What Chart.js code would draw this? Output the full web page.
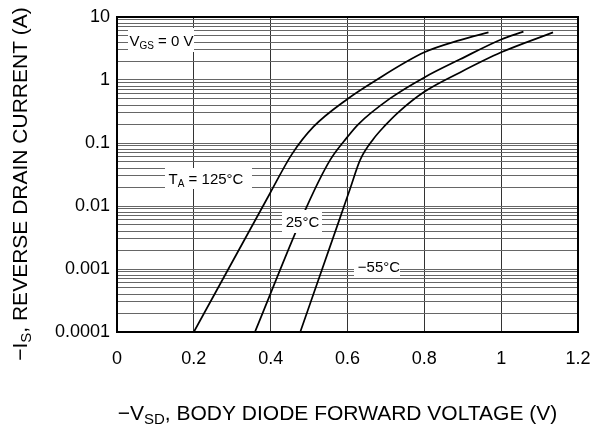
<!DOCTYPE html>
<html>
<head>
<meta charset="utf-8">
<script src="https://cdn.jsdelivr.net/npm/chart.js@4/dist/chart.umd.min.js"></script>
<style>
html,body{margin:0;padding:0;background:#fff;}
#wrap{width:601px;height:425px;position:relative;}
</style>
</head>
<body>
<div id="wrap"><canvas id="c" width="601" height="425"></canvas></div>
<script>
// ---- data ----
const v125 = [0.2, 0.398, 0.455, 0.511, 0.6, 0.668, 0.8, 0.893, 0.967];
const i125 = [0.0001, 0.0158, 0.066, 0.18, 0.5, 0.94, 2.75, 4.3, 5.7];
const v25 = [0.359, 0.494, 0.555, 0.6, 0.628, 0.711, 0.8, 0.893, 1.0, 1.058];
const i25 = [0.0001, 0.0098, 0.054, 0.125, 0.198, 0.51, 1.1, 2.13, 4.4, 5.85];
const vm55 = [0.477, 0.581, 0.607, 0.633, 0.667, 0.698, 0.733, 0.8, 0.893, 1.0, 1.135];
const im55 = [0.0001, 0.0066, 0.019, 0.054, 0.115, 0.19, 0.31, 0.65, 1.32, 2.75, 5.7];

const xTickValues = [0, 0.2, 0.4, 0.6, 0.8, 1.0, 1.2];
const xTickLabels = ['0', '0.2', '0.4', '0.6', '0.8', '1', '1.2'];
const yDecades = [0.0001, 0.001, 0.01, 0.1, 1, 10];
const yTickLabels = ['0.0001', '0.001', '0.01', '0.1', '1', '10'];

const FONT = '"Liberation Sans", Arial, Helvetica, sans-serif';

function pts(xs, ys) { return xs.map((x, k) => ({x: x, y: ys[k]})); }

function yTicks() {
  const t = [];
  for (let d = 0; d < yDecades.length; d++) {
    t.push({value: yDecades[d], major: true, lab: yTickLabels[d]});
    if (d < yDecades.length - 1) {
      for (let m = 2; m <= 9; m++) t.push({value: yDecades[d] * m, major: false, lab: ''});
    }
  }
  return t;
}

function richWidth(ctx, parts) {
  let w = 0;
  parts.forEach(p => { ctx.font = p[1] + 'px ' + FONT; w += ctx.measureText(p[0]).width; });
  return w;
}

function drawRich(ctx, parts, x, y, align) {
  const w = richWidth(ctx, parts);
  let cx = align === 'center' ? x - w / 2 : (align === 'right' ? x - w : x);
  ctx.textAlign = 'left';
  ctx.textBaseline = 'alphabetic';
  parts.forEach(p => {
    ctx.font = p[1] + 'px ' + FONT;
    ctx.fillText(p[0], cx, y + p[2]);
    cx += ctx.measureText(p[0]).width;
  });
}

function labelBox(ctx, parts, box, cx, baseY) {
  ctx.fillStyle = '#fff';
  ctx.fillRect(box[0], box[1], box[2] - box[0], box[3] - box[1]);
  ctx.fillStyle = '#000';
  drawRich(ctx, parts, cx, baseY, 'center');
}

const decor = {
  id: 'decor',
  afterDatasetsDraw(chart) {
    const ctx = chart.ctx;
    const a = chart.chartArea;
    ctx.save();
    // label boxes
    labelBox(ctx, [['V', 15, 0], ['GS', 10, 3], [' = 0 V', 15, 0]], [128, 28, 194, 52], 161.5, 46);
    labelBox(ctx, [['T', 15, 0], ['A', 10, 3], [' = 125°C', 15, 0]], [165, 168, 252, 189], 206, 184);
    labelBox(ctx, [['25°C', 15, 0]], [282, 210, 322, 233], 302.5, 227);
    labelBox(ctx, [['\u221255°C', 15, 0]], [354, 260, 400, 278], 379, 272);
    // frame
    ctx.strokeStyle = '#000';
    ctx.lineWidth = 2;
    ctx.strokeRect(a.left, a.top, a.right - a.left, a.bottom - a.top);
    // axis titles
    ctx.fillStyle = '#000';
    drawRich(ctx, [['\u2212V', 21, 0], ['SD', 15, 4], [', BODY DIODE FORWARD VOLTAGE (V)', 21, 0]], 337.5, 420, 'center');
    ctx.translate(27, 184);
    ctx.rotate(-Math.PI / 2);
    drawRich(ctx, [['\u2212I', 21, 0], ['S', 15, 4], [', REVERSE DRAIN CURRENT (A)', 21, 0]], 0, 0, 'center');
    ctx.restore();
  }
};

const lineStyle = {borderColor: '#000', borderWidth: 1.7, pointRadius: 0, fill: false, cubicInterpolationMode: 'monotone'};

function noPad(s) { s.paddingLeft = 0; s.paddingRight = 0; s.paddingTop = 0; s.paddingBottom = 0; }

new Chart(document.getElementById('c'), {
  type: 'scatter',
  data: {
    datasets: [
      Object.assign({label: '125°C', data: pts(v125, i125), showLine: true}, lineStyle),
      Object.assign({label: '25°C', data: pts(v25, i25), showLine: true}, lineStyle),
      Object.assign({label: '-55°C', data: pts(vm55, im55), showLine: true}, lineStyle)
    ]
  },
  options: {
    responsive: false,
    animation: false,
    devicePixelRatio: 1,
    layout: {padding: {left: 0, right: 23, top: 17, bottom: 0}},
    plugins: {legend: {display: false}, tooltip: {enabled: false}},
    scales: {
      x: {
        type: 'linear', min: 0, max: 1.2,
        afterBuildTicks(s) { s.ticks = xTickValues.map(v => ({value: v})); },
        afterFit(s) { s.height = 93; noPad(s); },
        grid: {color: '#333', lineWidth: 1, drawTicks: false},
        border: {display: false},
        ticks: {
          autoSkip: false, maxRotation: 0, padding: 16, color: '#000',
          font: {family: FONT, size: 18},
          callback(v, idx) { return xTickLabels[idx]; }
        }
      },
      y: {
        type: 'logarithmic', min: 0.0001, max: 10,
        afterBuildTicks(s) { s.ticks = yTicks(); },
        afterFit(s) { s.width = 117; noPad(s); },
        grid: {color: '#666', lineWidth: 1, drawTicks: false},
        border: {display: false},
        ticks: {
          autoSkip: false, padding: 7, color: '#000',
          font: {family: FONT, size: 18},
          callback(v, idx, ticks) { return ticks[idx].lab; }
        }
      }
    }
  },
  plugins: [decor]
});
</script>
</body>
</html>
